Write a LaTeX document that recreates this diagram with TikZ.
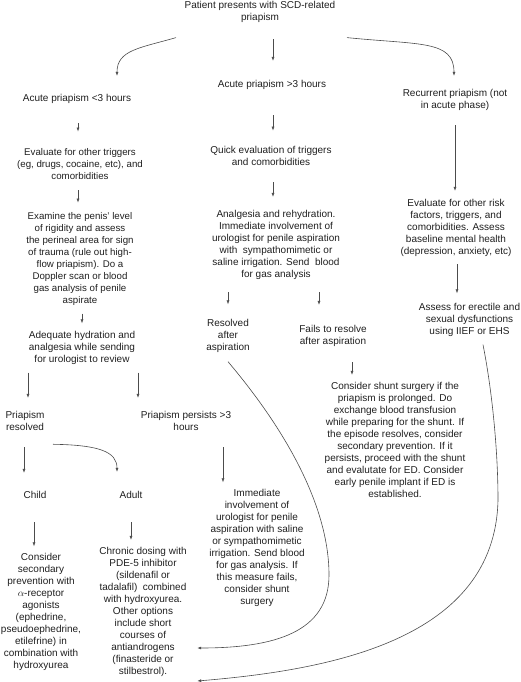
\documentclass[tikz,border=0pt]{standalone}
\usepackage{fontspec}
\setmainfont{Liberation Sans}
\usetikzlibrary{calc,arrows.meta}
\newcommand\vlink[5]{\draw[arr] ($(#1.south)+(#3,#4)$) -- ($(#2.north -| #1.south)+(#3,-#5)$);}
\begin{document}
\begin{tikzpicture}[x=1pt,y=-1pt,
  txt/.style={align=center, inner sep=0pt, font=\fontsize{10}{12}\selectfont, text=black!88},
  small/.style={txt, font=\fontsize{9.7}{12}\selectfont},
  arr/.style={draw=black!70, line width=0.6pt, -{Latex[length=4pt,width=3pt]}}]
\useasboundingbox (0,0) rectangle (520,682);
% nodes
\node[txt] (top) at (260,11.75) {Patient presents with SCD-related\\priapism};
\node[txt] (a1) at (77,99) {Acute priapism <3 hours};
\node[txt] (a2) at (272,85) {Acute priapism >3 hours};
\node[txt] (a3) at (455,99.5) {Recurrent priapism (not\\in acute phase)};
\node[small] (ev1) at (80,164) {Evaluate for other triggers\\(eg, drugs, cocaine, etc), and\\comorbidities};
\node[small] (ex) at (80,259) {Examine the penis' level\\of rigidity and assess\\the perineal area for sign\\of trauma (rule out high-\\flow priapism). Do a\\Doppler scan or blood\\gas analysis of penile\\aspirate};
\node[txt] (adeq) at (82,347.5) {Adequate hydration and\\analgesia while sending\\for urologist to review};
\node[txt] (pres) at (25,421) {Priapism\\resolved};
\node[txt] (pers) at (186,421) {Priapism persists >3\\hours};
\node[txt] (child) at (35,495) {Child};
\node[txt] (adult) at (131,495) {Adult};
\node[txt] (cons) at (41,611.5) {Consider\\secondary\\prevention with\\$\alpha$-receptor\\agonists\\(ephedrine,\\pseudoephedrine,\\etilefrine) in\\combination with\\hydroxyurea};
\node[txt] (chron) at (143,612) {Chronic dosing with\\PDE-5 inhibitor\\(sildenafil or\\tadalafil)~ combined\\with hydroxyurea.\\Other options\\include short\\courses of\\antiandrogens\\(finasteride or\\stilbestrol).};
\node[txt] (imm) at (257,547.5) {Immediate\\involvement of\\urologist for penile\\aspiration with saline\\or sympathomimetic\\irrigation. Send blood\\for gas analysis. If\\this measure fails,\\consider shunt\\surgery};
\node[txt] (quick) at (271,155.5) {Quick evaluation of triggers\\and comorbidities};
\node[txt] (anal) at (276,245) {Analgesia and rehydration.\\Immediate involvement of\\urologist for penile aspiration\\with~ sympathomimetic or\\saline irrigation. Send~ blood\\for gas analysis};
\node[txt] (resa) at (228,335.5) {Resolved\\after\\aspiration};
\node[txt] (fails) at (333,336) {Fails to resolve\\after aspiration};
\node[txt] (shunt) at (395,440) {Consider shunt surgery if the\\priapism is prolonged. Do\\exchange blood transfusion\\while preparing for the shunt. If\\the episode resolves, consider\\secondary prevention. If it\\persists, proceed with the shunt\\and evalutate for ED. Consider\\early penile implant if ED is\\established.};
\node[txt] (ev2) at (456,228) {Evaluate for other risk\\factors, triggers, and\\comorbidities. Assess\\baseline mental health\\(depression, anxiety, etc)};
\node[txt] (assess) at (469.5,319.5) {Assess for erectile and\\sexual dysfunctions\\using IIEF or EHS};
% straight arrows
\vlink{top}{a2}{13}{16.8}{19.3}
\vlink{a1}{ev1}{1}{19.3}{16.7}
\vlink{ev1}{ex}{-2}{10.7}{9.7}
\vlink{ex}{adeq}{2}{7.8}{7.3}
\vlink{adeq}{pres}{-54}{8.3}{13.3}
\vlink{adeq}{pers}{56}{8.3}{13.3}
\vlink{pres}{child}{-1}{16.4}{18.3}
\vlink{pers}{imm}{37}{16.4}{6.3}
\vlink{child}{cons}{-1}{23.4}{6.3}
\vlink{adult}{chron}{0}{23.4}{7.3}
\vlink{a2}{quick}{1}{25.3}{15}
\vlink{quick}{anal}{2}{17}{13.3}
\vlink{anal}{resa}{-48}{12.3}{14.3}
\vlink{anal}{fails}{43}{12.3}{20.3}
\vlink{fails}{shunt}{19}{15.3}{7.3}
\vlink{a3}{ev2}{0}{14.8}{8.3}
\vlink{ev2}{assess}{1}{7.3}{9.3}
% curved arrows
\draw[arr] ($(top.south)+(-84,15)$) .. controls (140,48) and (117,50) .. ($(a1.north)+(40,-18.3)$);
\draw[arr] ($(top.south)+(87,15)$) .. controls (420,45) and (454,40) .. ($(a3.north)+(-1,-12.8)$);
\draw[arr] ($(pres.south)+(28,13.4)$) .. controls (100,445) and (117,452) .. ($(adult.north)+(-14,-19.3)$);
\draw[arr] ($(resa.south)+(0,9.3)$) .. controls (290,435) and (329,510) .. (329,575) .. controls (329,632) and (275,648) .. ($(chron.east)+(10.4,36)$);
\draw[arr] ($(assess.south)+(13.5,8.3)$) .. controls (492,390) and (498,450) .. (498,500) .. controls (495,640) and (330,670) .. ($(chron.east)+(10.4,69)$);
\end{tikzpicture}
\end{document}
